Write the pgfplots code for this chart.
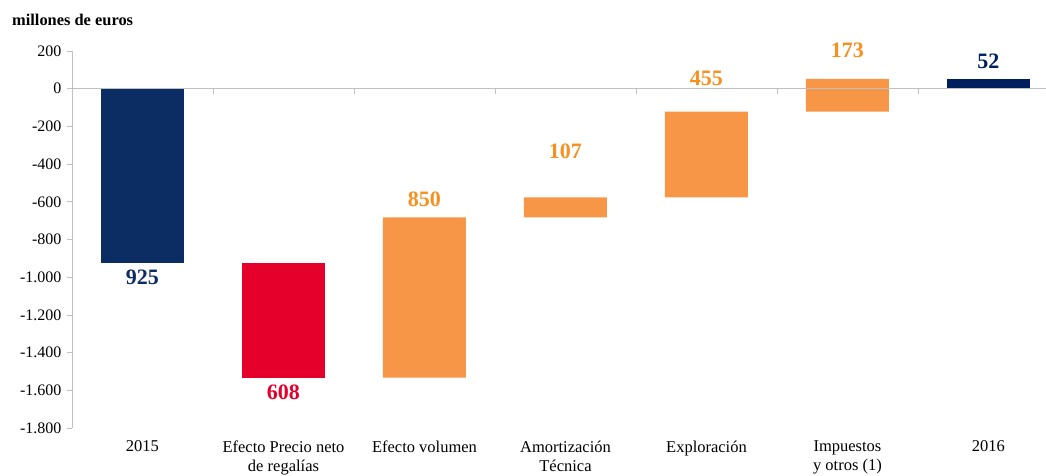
\documentclass[border=0pt]{standalone}
\usepackage{fontspec}
\setmainfont{Liberation Serif}
\usepackage{pgfplots}
\usepackage{pgfplotstable}
\pgfplotsset{compat=1.18}

\definecolor{navyA}{HTML}{0B2D63}
\definecolor{navyB}{HTML}{001F5F}
\definecolor{redA}{HTML}{E4002B}
\definecolor{orangeBar}{HTML}{F79646}
\definecolor{orangeTxt}{HTML}{F7901E}
\definecolor{axisgray}{HTML}{C0C0C0}

% waterfall: invisible base + one visible column per colour
\pgfplotstableread{
x base  ini  precio  resto  fin
0  0    -925   0       0     0
1  -925  0    -608     0     0
2  -683  0     0     -850    0
3  -576  0     0     -107    0
4  -121  0     0     -455    0
5  -121  0     0      173    0
6  0     0     0       0     52
}\datos

\begin{document}
\begin{tikzpicture}[x=1pt,y=1pt]
\useasboundingbox (0,0) rectangle (1046,475);
\node[anchor=base west, inner sep=0pt, font=\fontsize{16.4}{18}\selectfont\bfseries] at (12,449) {millones de euros};
\begin{axis}[
  at={(72pt,47pt)}, anchor=south west,
  scale only axis, width=974pt, height=377pt,
  ybar stacked, stack negative=on previous, bar width=83pt,
  clip=false,
  xmin=-0.5, xmax=6.408, ymin=-1800, ymax=200,
  ytick={-1800,-1600,...,200},
  xtick={0,...,6},
  xticklabels={2015, Efecto Precio neto\\de regalías, Efecto volumen,
    Amortización\\Técnica, Exploración, Impuestos\\y otros (1), 2016},
  axis y line*=left, axis x line*=bottom,
  x axis line style={draw=none},
  y axis line style={axisgray, line width=0.8pt},
  ytick style={axisgray, line width=0.8pt},
  tick align=outside,
  y tick label style={font=\fontsize{16}{18}\selectfont, xshift=-2pt},
  x tick label style={font=\fontsize{16.5}{19}\selectfont, align=center, anchor=north, yshift=-4pt},
  major tick length=5pt,
  x tick style={draw=none},
  /pgf/number format/assume math mode=true,
  /pgf/number format/1000 sep={.},
]
\draw[axisgray, line width=0.8pt] (axis cs:-0.5,0) -- (axis cs:6.408,0);
\draw[axisgray, line width=0.8pt] (axis cs:0.5,0) -- ++(0pt,-5pt);
\draw[axisgray, line width=0.8pt] (axis cs:1.5,0) -- ++(0pt,-5pt);
\draw[axisgray, line width=0.8pt] (axis cs:2.5,0) -- ++(0pt,-5pt);
\draw[axisgray, line width=0.8pt] (axis cs:3.5,0) -- ++(0pt,-5pt);
\draw[axisgray, line width=0.8pt] (axis cs:4.5,0) -- ++(0pt,-5pt);
\draw[axisgray, line width=0.8pt] (axis cs:5.5,0) -- ++(0pt,-5pt);
\addplot[draw=none, fill=none, forget plot] table[x=x, y=base] {\datos};
\addplot[draw=none, fill=navyA] table[x=x, y=ini] {\datos};
\addplot[draw=none, fill=redA] table[x=x, y=precio] {\datos};
\addplot[draw=none, fill=orangeBar] table[x=x, y=resto] {\datos};
\addplot[draw=none, fill=navyB] table[x=x, y=fin] {\datos};

\node[text=navyA, font=\fontsize{22}{24}\selectfont\bfseries] at (axis cs:0,-1000) {925};
\node[text=redA, font=\fontsize{22}{24}\selectfont\bfseries] at (axis cs:1,-1608) {608};
\node[text=orangeTxt, font=\fontsize{22}{24}\selectfont\bfseries] at (axis cs:2,-587) {850};
\node[text=orangeTxt, font=\fontsize{22}{24}\selectfont\bfseries] at (axis cs:3,-333) {107};
\node[text=orangeTxt, font=\fontsize{22}{24}\selectfont\bfseries] at (axis cs:4,53) {455};
\node[text=orangeTxt, font=\fontsize{22}{24}\selectfont\bfseries] at (axis cs:5,201) {173};
\node[text=navyB, font=\fontsize{22}{24}\selectfont\bfseries] at (axis cs:6,143) {52};
\end{axis}
\end{tikzpicture}
\end{document}
